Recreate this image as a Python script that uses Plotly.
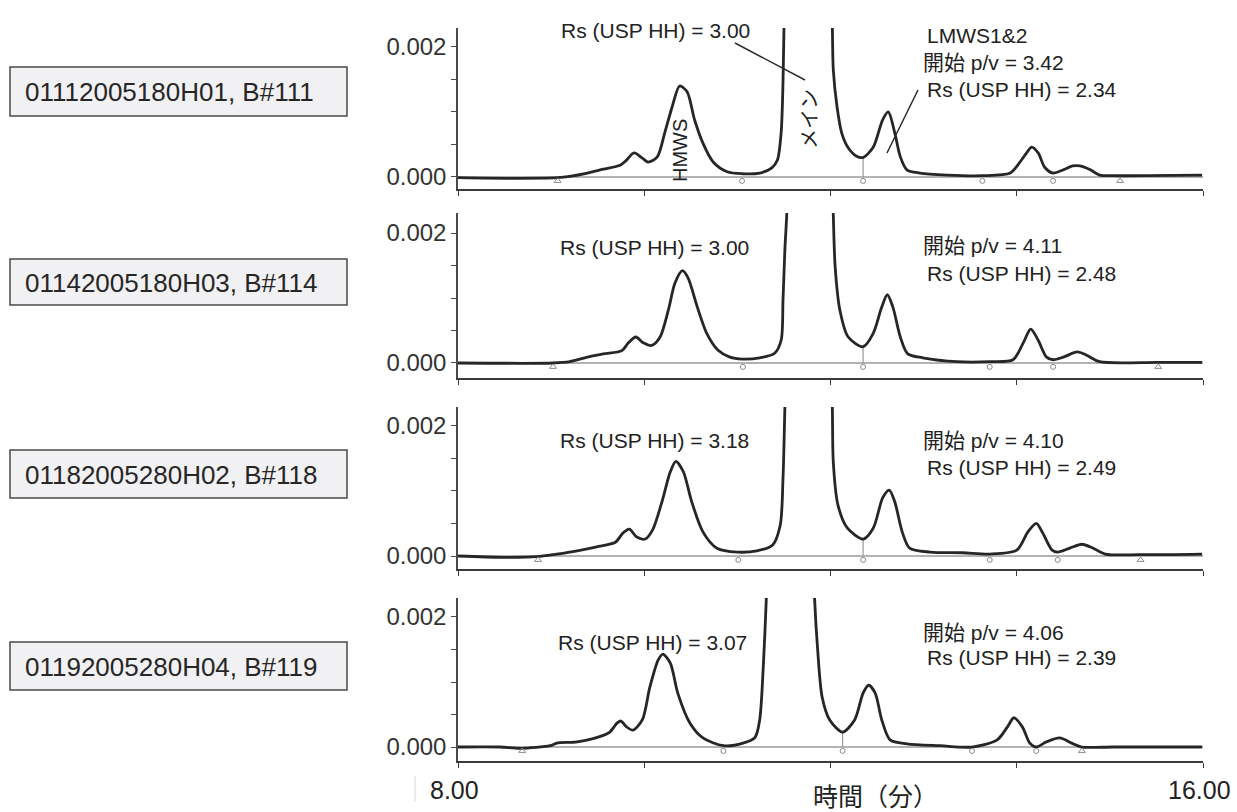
import plotly.graph_objects as go

# ---------------- data ----------------
sample_labels = ["01112005180H01, B#111", "01142005180H03, B#114",
                 "01182005280H02, B#118", "01192005280H04, B#119"]

rs_hmws = ["3.00", "3.00", "3.18", "3.07"]
pv_start = ["3.42", "4.11", "4.10", "4.06"]
rs_lmws = ["2.34", "2.48", "2.49", "2.39"]

time_p1 = [8.00, 8.56, 9.07, 9.20, 9.39, 9.56, 9.74, 9.81, 9.89, 9.98, 10.04, 10.14, 10.22, 10.30,
           10.38, 10.46, 10.54, 10.63, 10.74, 10.89, 11.05, 11.24, 11.37, 11.43, 11.47, 11.49, 11.50,
           11.52, 11.76, 12.00, 12.02, 12.03, 12.07, 12.12, 12.19, 12.28, 12.35, 12.46, 12.56, 12.62,
           12.69, 12.75, 12.82, 12.96, 13.25, 13.63, 13.93, 14.03, 14.11, 14.16, 14.23, 14.30, 14.39,
           14.50, 14.60, 14.68, 14.79, 14.89, 15.03, 15.40, 15.99]
abs_p1 = [-0.00001, -0.00002, -0.00001, 0.00001, 0.00006, 0.00012, 0.00018, 0.00026, 0.00037, 0.00029,
          0.00023, 0.00031, 0.00068, 0.00108, 0.0014, 0.00131, 0.00088, 0.00052, 0.00023, 0.00008,
          0.00005, 0.00006, 0.00014, 0.00026, 0.00068, 0.00146, 0.00226, 0.0032, 0.006, 0.0032,
          0.00229, 0.00165, 0.00108, 0.00068, 0.00045, 0.00032, 0.0003, 0.00046, 0.00088, 0.001,
          0.00068, 0.00031, 0.00011, 0.00006, 0.00003, 0.00002, 0.00006, 0.00022, 0.00038, 0.00046,
          0.00037, 0.00015, 0.00006, 0.00011, 0.00017, 0.00017, 0.00011, 0.00003, 0.00002, 0.00002,
          0.00003]

time_p2 = [8.00, 9.02, 9.20, 9.39, 9.56, 9.76, 9.83, 9.91, 9.99, 10.08, 10.17, 10.26, 10.33, 10.41,
           10.47, 10.57, 10.67, 10.79, 10.92, 11.05, 11.24, 11.40, 11.47, 11.49, 11.51, 11.53, 11.55,
           11.79, 12.01, 12.03, 12.05, 12.10, 12.19, 12.35, 12.46, 12.55, 12.61, 12.67, 12.75, 12.83,
           12.99, 13.36, 13.71, 13.96, 14.07, 14.15, 14.23, 14.32, 14.39, 14.50, 14.65, 14.75, 14.89,
           15.51, 15.99]
abs_p2 = [0.0, 0.0, 0.00002, 0.00009, 0.00014, 0.00019, 0.00031, 0.0004, 0.00031, 0.00027, 0.0004,
          0.00082, 0.00123, 0.00142, 0.00131, 0.00086, 0.00046, 0.0002, 0.00009, 0.00006, 0.00008,
          0.00015, 0.00035, 0.00097, 0.00174, 0.00228, 0.0032, 0.006, 0.0032, 0.00228, 0.00148,
          0.00082, 0.0004, 0.00025, 0.00046, 0.00086, 0.00105, 0.00086, 0.0004, 0.00014, 0.00008,
          0.00002, 0.00002, 0.00005, 0.00031, 0.00052, 0.00035, 0.00009, 0.00005, 0.00009, 0.00017,
          0.00012, 0.00002, 0.00001, 0.00001]

time_p3 = [8.00, 8.48, 8.85, 9.06, 9.28, 9.49, 9.69, 9.77, 9.84, 9.92, 10.01, 10.09, 10.19, 10.28,
           10.34, 10.42, 10.51, 10.63, 10.78, 11.00, 11.21, 11.38, 11.46, 11.49, 11.51, 11.53, 11.77,
           12.00, 12.02, 12.03, 12.08, 12.18, 12.35, 12.46, 12.56, 12.63, 12.69, 12.77, 12.85, 13.07,
           13.42, 13.71, 14.00, 14.12, 14.21, 14.28, 14.38, 14.44, 14.57, 14.70, 14.82, 14.95, 15.32,
           15.99]
abs_p3 = [0.0, -0.00002, -0.00001, 0.00003, 0.00008, 0.00014, 0.00021, 0.00035, 0.00041, 0.00029,
          0.00026, 0.0004, 0.00083, 0.00129, 0.00145, 0.00129, 0.00083, 0.00037, 0.00012, 0.00006,
          0.00008, 0.00017, 0.00047, 0.00119, 0.00226, 0.0032, 0.006, 0.0032, 0.00226, 0.00144,
          0.00078, 0.00043, 0.00026, 0.00043, 0.00089, 0.00101, 0.00083, 0.00037, 0.00012, 0.00006,
          0.00005, 0.00003, 0.00009, 0.00037, 0.0005, 0.00035, 0.00009, 0.00006, 0.00012, 0.00018,
          0.00012, 0.00003, 0.00002, 0.00003]

time_p4 = [8.00, 8.45, 8.67, 8.99, 9.06, 9.28, 9.56, 9.63, 9.71, 9.75, 9.81, 9.88, 9.98, 10.06,
           10.15, 10.20, 10.28, 10.36, 10.49, 10.63, 10.85, 11.06, 11.19, 11.24, 11.28, 11.31, 11.33,
           11.57, 11.81, 11.83, 11.86, 11.91, 11.99, 12.13, 12.26, 12.35, 12.41, 12.48, 12.55, 12.64,
           12.82, 13.18, 13.52, 13.79, 13.90, 13.97, 14.06, 14.14, 14.21, 14.32, 14.46, 14.59, 14.70,
           15.03, 15.99]
abs_p4 = [0.0, 0.0, -0.00002, 0.00002, 0.00006, 0.00008, 0.00018, 0.00023, 0.00037, 0.0004, 0.00031,
          0.00026, 0.00042, 0.00092, 0.00134, 0.00143, 0.00129, 0.00083, 0.00037, 0.00014, 0.00002,
          0.00006, 0.00015, 0.00042, 0.00129, 0.00226, 0.0032, 0.006, 0.0032, 0.00226, 0.00154,
          0.00077, 0.00042, 0.00023, 0.00042, 0.00083, 0.00095, 0.00083, 0.00042, 0.00011, 0.00005,
          0.00002, 0.0, 0.00011, 0.00031, 0.00045, 0.00031, 0.00006, 0.0, 0.00008, 0.00014, 0.00006,
          0.0, 0.0, 0.0]

# integration start/end (triangles) and valley (circle) marks, drop line at LMWS1 start
tri_times = [[9.07, 15.11], [9.02, 15.52], [8.86, 15.33], [8.69, 14.70]]
valley_times = [[11.05, 12.35, 13.63, 14.39], [11.06, 12.35, 13.71, 14.39],
                [11.01, 12.35, 13.71, 14.44], [10.85, 12.13, 13.52, 14.21]]
drop_time = [12.35, 12.35, 12.35, 12.13]
drop_abs = [0.0003, 0.00025, 0.00026, 0.00023]

x_ticks = [8, 10, 12, 14, 16]
y_ticks = [0.0, 0.0005, 0.001, 0.0015, 0.002]
y_ticktext = ["0.000", "", "", "", "0.002"]

# ---------------- layout helpers ----------------
W, H = 1237, 812
def px(x):
    return x / W
def py(y):
    return 1 - y / H

times = [time_p1, time_p2, time_p3, time_p4]
absv = [abs_p1, abs_p2, abs_p3, abs_p4]

panel_px = [(28, 189), (213, 378), (407, 569), (598, 761)]
y_ranges = [[-0.000185, 0.002292], [-0.000231, 0.002308], [-0.000199, 0.002282], [-0.000215, 0.002292]]
x_dom = [px(458), px(1203)]

LINE = "#262626"
GREY = "#9a9a9a"
TXT = "#222222"
FONT = "Liberation Sans, Arial, Noto Sans CJK JP, sans-serif"
mark_y = -0.00006

fig = go.Figure()
layout = dict(width=W, height=H, margin=dict(l=0, r=0, t=0, b=0),
              paper_bgcolor="white", plot_bgcolor="white", showlegend=False,
              font=dict(family=FONT, color=TXT))

for i in range(4):
    n = i + 1
    xa = "x" if n == 1 else f"x{n}"
    ya = "y" if n == 1 else f"y{n}"
    # zero baseline
    fig.add_trace(go.Scatter(x=[8, 16], y=[0, 0], mode="lines", xaxis=xa, yaxis=ya,
                             line=dict(color=GREY, width=1.5), hoverinfo="skip"))
    # drop line
    fig.add_trace(go.Scatter(x=[drop_time[i], drop_time[i]], y=[drop_abs[i], 0], mode="lines",
                             xaxis=xa, yaxis=ya, line=dict(color=GREY, width=1.2), hoverinfo="skip"))
    # chromatogram
    fig.add_trace(go.Scatter(x=times[i], y=absv[i], mode="lines", xaxis=xa, yaxis=ya,
                             line=dict(color=LINE, width=2.8, shape="spline", smoothing=0.8)))
    # markers
    fig.add_trace(go.Scatter(x=tri_times[i], y=[mark_y] * len(tri_times[i]), mode="markers",
                             xaxis=xa, yaxis=ya, cliponaxis=False,
                             marker=dict(symbol="triangle-up-open", size=6, color="#8a8a8a",
                                         line=dict(width=1))))
    fig.add_trace(go.Scatter(x=valley_times[i], y=[mark_y] * len(valley_times[i]), mode="markers",
                             xaxis=xa, yaxis=ya, cliponaxis=False,
                             marker=dict(symbol="circle-open", size=5, color="#8a8a8a",
                                         line=dict(width=1))))
    top, bot = panel_px[i]
    xkey = "xaxis" if n == 1 else f"xaxis{n}"
    ykey = "yaxis" if n == 1 else f"yaxis{n}"
    layout[xkey] = dict(domain=x_dom, range=[8, 16], anchor=ya, showline=True, linecolor="#3a3a3a",
                        linewidth=2, ticks="outside", ticklen=5, tickcolor="#3a3a3a",
                        tickvals=x_ticks, showticklabels=False, showgrid=False, zeroline=False,
                        fixedrange=True)
    layout[ykey] = dict(domain=[py(bot), py(top)], range=y_ranges[i], anchor=xa, showline=True,
                        linecolor="#4a4a4a", linewidth=1.5, ticks="outside", ticklen=5,
                        tickcolor="#4a4a4a", tickvals=y_ticks, ticktext=y_ticktext,
                        tickfont=dict(size=24, color="#333333"), showgrid=False, zeroline=False,
                        fixedrange=True)

fig.update_layout(**layout)

shapes = []
annots = []

def text(x, y, s, size=21, xanchor="center", angle=0, color=TXT):
    annots.append(dict(x=px(x), y=py(y), xref="paper", yref="paper", text=s, showarrow=False,
                       xanchor=xanchor, yanchor="middle", textangle=angle,
                       font=dict(size=size, color=color, family=FONT)))

# sample label boxes
box_px = [(67, 116), (259, 305), (450, 498), (642, 690)]
for i, (t0, t1) in enumerate(box_px):
    shapes.append(dict(type="rect", xref="paper", yref="paper", x0=px(10), x1=px(347),
                       y0=py(t1), y1=py(t0), fillcolor="#f1f1f3",
                       line=dict(color="#4a4a4a", width=1.5), layer="below"))
    text(23, (t0 + t1) / 2 + 1, sample_labels[i], size=26, xanchor="left", color="#262626")

# panel annotations
rs_centers = [(655, 30), (654, 247), (654, 440), (652, 642)]
for i in range(4):
    text(rs_centers[i][0], rs_centers[i][1], f"Rs (USP HH) = {rs_hmws[i]}")

text(925, 35, "LMWS1&2", xanchor="left")
pv_pos = [(921, 63), (921, 245), (921, 440), (921, 632)]
rs2_pos = [(925, 89), (925, 273), (925, 468), (925, 657)]
for i in range(4):
    text(pv_pos[i][0], pv_pos[i][1], f"開始 p/v = {pv_start[i]}", xanchor="left")
    text(rs2_pos[i][0], rs2_pos[i][1], f"Rs (USP HH) = {rs_lmws[i]}", xanchor="left")

text(680, 150, "HMWS", size=20, angle=-90)
text(810, 119, "メイン", size=20, angle=-90)

# leader lines (top panel)
shapes.append(dict(type="line", xref="paper", yref="paper", x0=px(735), y0=py(43), x1=px(805),
                   y1=py(80), line=dict(color="#2b2b2b", width=1.5)))
shapes.append(dict(type="line", xref="paper", yref="paper", x0=px(918), y0=py(90), x1=px(887),
                   y1=py(153), line=dict(color="#2b2b2b", width=1.5)))

# bottom axis labels
text(454, 790, "8.00", size=25)
text(1199, 790, "16.00", size=25)
text(875, 797, "時間（分）", size=25)
shapes.append(dict(type="line", xref="paper", yref="paper", x0=px(415), y0=py(776), x1=px(415),
                   y1=py(801), line=dict(color="#d8d8d8", width=1)))

fig.update_layout(shapes=shapes, annotations=annots)

fig.write_html("out.html", config={"displayModeBar": False},
               post_script="document.body.style.margin='0';")
